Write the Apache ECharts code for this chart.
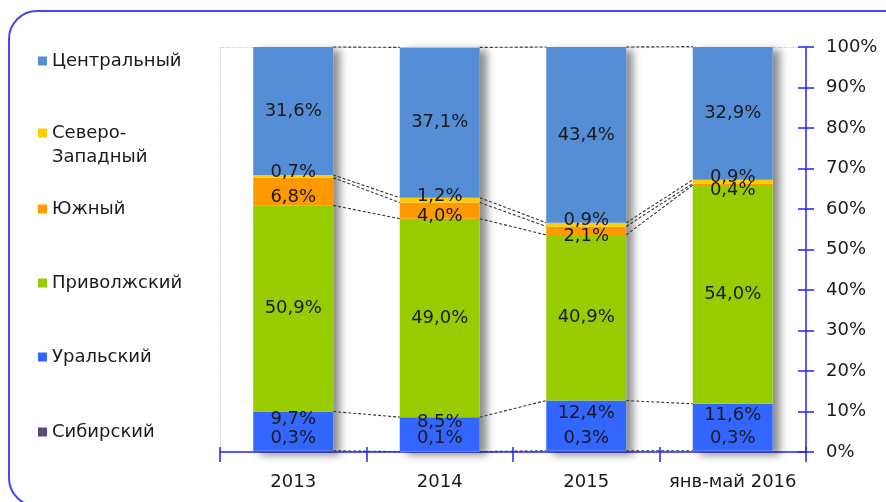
<!DOCTYPE html>
<html>
<head>
<meta charset="utf-8">
<script src="https://cdn.jsdelivr.net/npm/echarts@6/dist/echarts.min.js"></script>
<style>
  html, body { margin: 0; padding: 0; background: #fff; }
  #chart { width: 886px; height: 502px; }
</style>
</head>
<body>
<div id="chart"></div>
<script>
// данные (доли, %)
var categories = ['2013', '2014', '2015', 'янв-май 2016']
var sibirsky = [0.3, 0.1, 0.3, 0.3]
var uralsky = [9.7, 8.5, 12.4, 11.6]
var privolzhsky = [50.9, 49.0, 40.9, 54.0]
var yuzhny = [6.8, 4.0, 2.1, 0.4]
var severoZapadny = [0.7, 1.2, 0.9, 0.9]
var centralny = [31.6, 37.1, 43.4, 32.9]

var FONT = 'DejaVu Sans'
var BAR_W = 80
var AXIS_BLUE = '#2323f5'
var PLOT_BORDER = '#d4dcea'

// снизу вверх, как в стеке
var regions = [
  { name: 'Сибирский', data: sibirsky, color: '#5f497a', offset: [0, -13], legendTop: 421 },
  { name: 'Уральский', data: uralsky, color: '#3366ff', offset: [0, -12], legendTop: 346 },
  { name: 'Приволжский', data: privolzhsky, color: '#99cc00', offset: [0, 0], legendTop: 272 },
  { name: 'Южный', data: yuzhny, color: '#ff9900', offset: [0, 6], legendTop: 198 },
  { name: 'Северо-Западный', data: severoZapadny, color: '#ffcc00', offset: [0, -4], legendTop: 97 },
  { name: 'Центральный', data: centralny, color: '#558ed5', offset: [0, 0], legendTop: 50 }
]

function fmt (v) {
  return v.toFixed(1).replace('.', ',') + '%'
}

// накопленные уровни для соединительных линий
var lineData = []
var cum = categories.map(function () { return 0 })
regions.forEach(function (r) {
  cum = cum.map(function (c, i) { return c + r.data[i] })
  for (var i = 0; i < categories.length - 1; i++) {
    lineData.push([i, cum[i], cum[i + 1]])
  }
})

var series = regions.map(function (r, idx) {
  var s = {
    name: r.name,
    type: 'bar',
    stack: 'total',
    barWidth: BAR_W,
    itemStyle: { color: r.color },
    label: {
      show: true,
      position: 'inside',
      offset: r.offset,
      fontFamily: FONT,
      fontSize: 18,
      color: '#1a1a1a',
      formatter: function (p) { return fmt(p.value) }
    },
    data: r.data
  }
  if (idx === 0) {
    // тень столбцов
    s.showBackground = true
    s.backgroundStyle = {
      color: '#fff',
      shadowColor: 'rgba(0,0,0,0.45)',
      shadowBlur: 8,
      shadowOffsetX: 7,
      shadowOffsetY: 3
    }
  }
  return s
})

series.push({
  type: 'custom',
  silent: true,
  z: 5,
  encode: { x: 0, y: 1 },
  renderItem: function (params, api) {
    var i = api.value(0)
    var p1 = api.coord([i, api.value(1)])
    var p2 = api.coord([i + 1, api.value(2)])
    return {
      type: 'line',
      shape: { x1: p1[0] + BAR_W / 2, y1: p1[1], x2: p2[0] - BAR_W / 2, y2: p2[1] },
      style: { stroke: '#333', lineWidth: 1.1, lineDash: [3, 2] }
    }
  },
  data: lineData
})

var legends = regions.map(function (r) {
  var two = r.name === 'Северо-Западный'
  return {
    data: [r.name],
    left: 38,
    top: r.legendTop,
    padding: 0,
    icon: 'rect',
    itemWidth: 9,
    itemHeight: 9,
    // пустая первая строка, чтобы маркер стоял у первой строки текста
    formatter: function (n) { return two ? '\nСеверо-\nЗападный' : n },
    textStyle: {
      fontFamily: FONT,
      fontSize: 18,
      color: '#1a1a1a',
      lineHeight: two ? 24 : 22
    }
  }
})

var chart = echarts.init(document.getElementById('chart'))
chart.setOption({
  animation: false,
  backgroundColor: '#fff',
  graphic: [{
    type: 'rect',
    silent: true,
    shape: { x: 9, y: 11, width: 1000, height: 495, r: 28 },
    style: { fill: 'none', stroke: '#4646f8', lineWidth: 2 }
  }],
  legend: legends,
  grid: [
    { left: 220, right: 80, top: 47, bottom: 50 },
    { left: 220, right: 80, top: 47, bottom: 50 }
  ],
  xAxis: [
    {
      type: 'category',
      gridIndex: 0,
      data: categories,
      position: 'bottom',
      axisLine: { onZero: false, lineStyle: { color: AXIS_BLUE, width: 1.5 } },
      axisTick: { show: true, interval: 0, length: 10, lineStyle: { color: AXIS_BLUE, width: 1.5 } },
      axisLabel: { interval: 0, margin: 21, fontFamily: FONT, fontSize: 18, color: '#1a1a1a' }
    },
    {
      type: 'category',
      gridIndex: 1,
      data: categories,
      position: 'bottom',
      axisLine: { show: false, onZero: false },
      axisTick: { show: true, interval: 0, inside: true, length: 5, lineStyle: { color: AXIS_BLUE, width: 1.5 } },
      axisLabel: { show: false }
    },
    {
      type: 'category',
      gridIndex: 1,
      data: categories,
      position: 'top',
      axisLine: { onZero: false, lineStyle: { color: PLOT_BORDER, type: 'dashed' } },
      axisTick: { show: false },
      axisLabel: { show: false }
    }
  ],
  yAxis: [
    {
      type: 'value',
      gridIndex: 0,
      position: 'right',
      min: 0,
      max: 100,
      interval: 10,
      axisLine: { show: true, onZero: false, lineStyle: { color: AXIS_BLUE, width: 1.5 } },
      axisTick: { show: true, length: 8, lineStyle: { color: AXIS_BLUE, width: 1.5 } },
      axisLabel: { margin: 20, fontFamily: FONT, fontSize: 18, color: '#1a1a1a', formatter: '{value}%' },
      splitLine: { show: false }
    },
    {
      type: 'value',
      gridIndex: 1,
      position: 'right',
      min: 0,
      max: 100,
      interval: 10,
      axisLine: { show: false, onZero: false },
      axisTick: { show: true, inside: true, length: 8, lineStyle: { color: AXIS_BLUE, width: 1.5 } },
      axisLabel: { show: false },
      splitLine: { show: false }
    },
    {
      type: 'value',
      gridIndex: 1,
      position: 'left',
      min: 0,
      max: 100,
      interval: 10,
      axisLine: { show: true, onZero: false, lineStyle: { color: PLOT_BORDER, type: 'dashed' } },
      axisTick: { show: false },
      axisLabel: { show: false },
      splitLine: { show: false }
    }
  ],
  series: series
})
</script>
</body>
</html>
